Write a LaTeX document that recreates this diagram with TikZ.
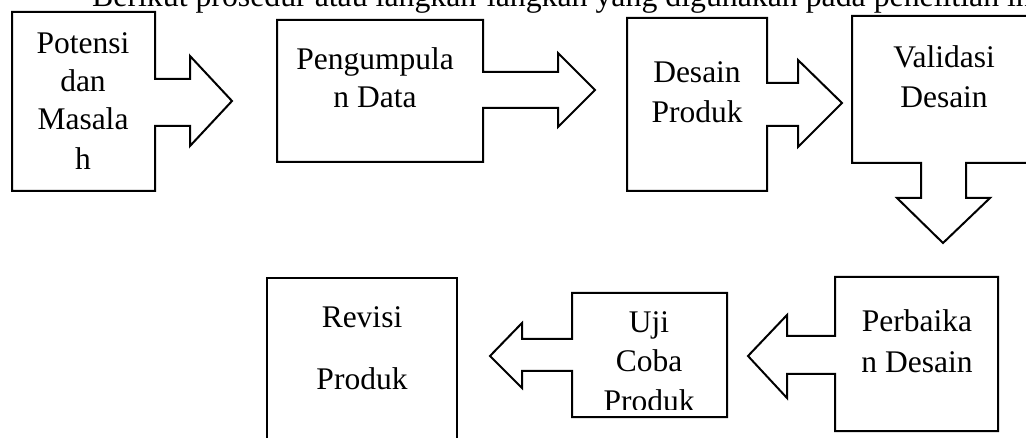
\documentclass[tikz,border=0pt]{standalone}
\usepackage{fontspec}
\setmainfont{Liberation Serif}
\begin{document}
\begin{tikzpicture}[x=1pt,y=-1pt,
  box/.style={draw=black, line width=2pt, line join=miter, fill=white},
  lbl/.style={anchor=base, inner sep=0pt, font=\fontsize{31.5}{39}\selectfont}]
\useasboundingbox (0,0) rectangle (1026,438);
\clip (0,0) rectangle (1026,438);
\node[lbl, anchor=base west, font=\fontsize{31.8}{39}\selectfont] (head) at (92,7) {Berikut prosedur atau langkah-langkah yang digunakan pada penelitian ini};
% top row
\draw[box] (12,12) -- (155,12) -- (155,79) -- (190,79) -- (190,56) -- (232,101) -- (190,146) -- (190,126) -- (155,126) -- (155,191) -- (12,191) -- cycle;
\draw[box] (277,20) -- (483,20) -- (483,72) -- (558,72) -- (558,53) -- (595,90) -- (558,127) -- (558,108) -- (483,108) -- (483,162) -- (277,162) -- cycle;
\draw[box] (627,18) -- (767,18) -- (767,83) -- (798,83) -- (798,60) -- (842,103) -- (798,147) -- (798,126) -- (767,126) -- (767,191) -- (627,191) -- cycle;
\draw[box] (852,16) -- (1040,16) -- (1040,163) -- (966,163) -- (966,198) -- (990,198) -- (943,243) -- (897,198) -- (921,198) -- (921,163) -- (852,163) -- cycle;
% bottom row
\draw[box] (998,277) -- (998,431) -- (835,431) -- (835,374) -- (787,374) -- (787,398) -- (748,356) -- (787,315) -- (787,336) -- (835,336) -- (835,277) -- cycle;
\draw[box] (727,293) -- (727,417) -- (572,417) -- (572,371) -- (522,371) -- (522,388) -- (490,356) -- (522,323) -- (522,339) -- (572,339) -- (572,293) -- cycle;
\draw[box] (267,450) -- (267,278) -- (457,278) -- (457,450);
% labels
\node[lbl] (pm1) at (83,54) {Potensi};
\node[lbl] (pm2) at (83,92) {dan};
\node[lbl] (pm3) at (83,130) {Masala};
\node[lbl] (pm4) at (83,170) {h};
\node[lbl] (pd1) at (375,70) {Pengumpula};
\node[lbl] (pd2) at (375,108) {n Data};
\node[lbl] (dp1) at (697,83) {Desain};
\node[lbl] (dp2) at (697,123) {Produk};
\node[lbl] (vd1) at (944,68) {Validasi};
\node[lbl] (vd2) at (944,108) {Desain};
\node[lbl] (pb1) at (917,332) {Perbaika};
\node[lbl] (pb2) at (917,373) {n Desain};
\node[lbl] (uc1) at (649,333) {Uji};
\node[lbl] (uc2) at (649,372) {Coba};
\begin{scope}
\clip (574,295) rectangle (725,409);
\node[lbl] (uc3) at (649,411) {Produk};
\end{scope}
\node[lbl] (rp1) at (362,328) {Revisi};
\node[lbl] (rp2) at (362,390) {Produk};
\end{tikzpicture}
\end{document}
